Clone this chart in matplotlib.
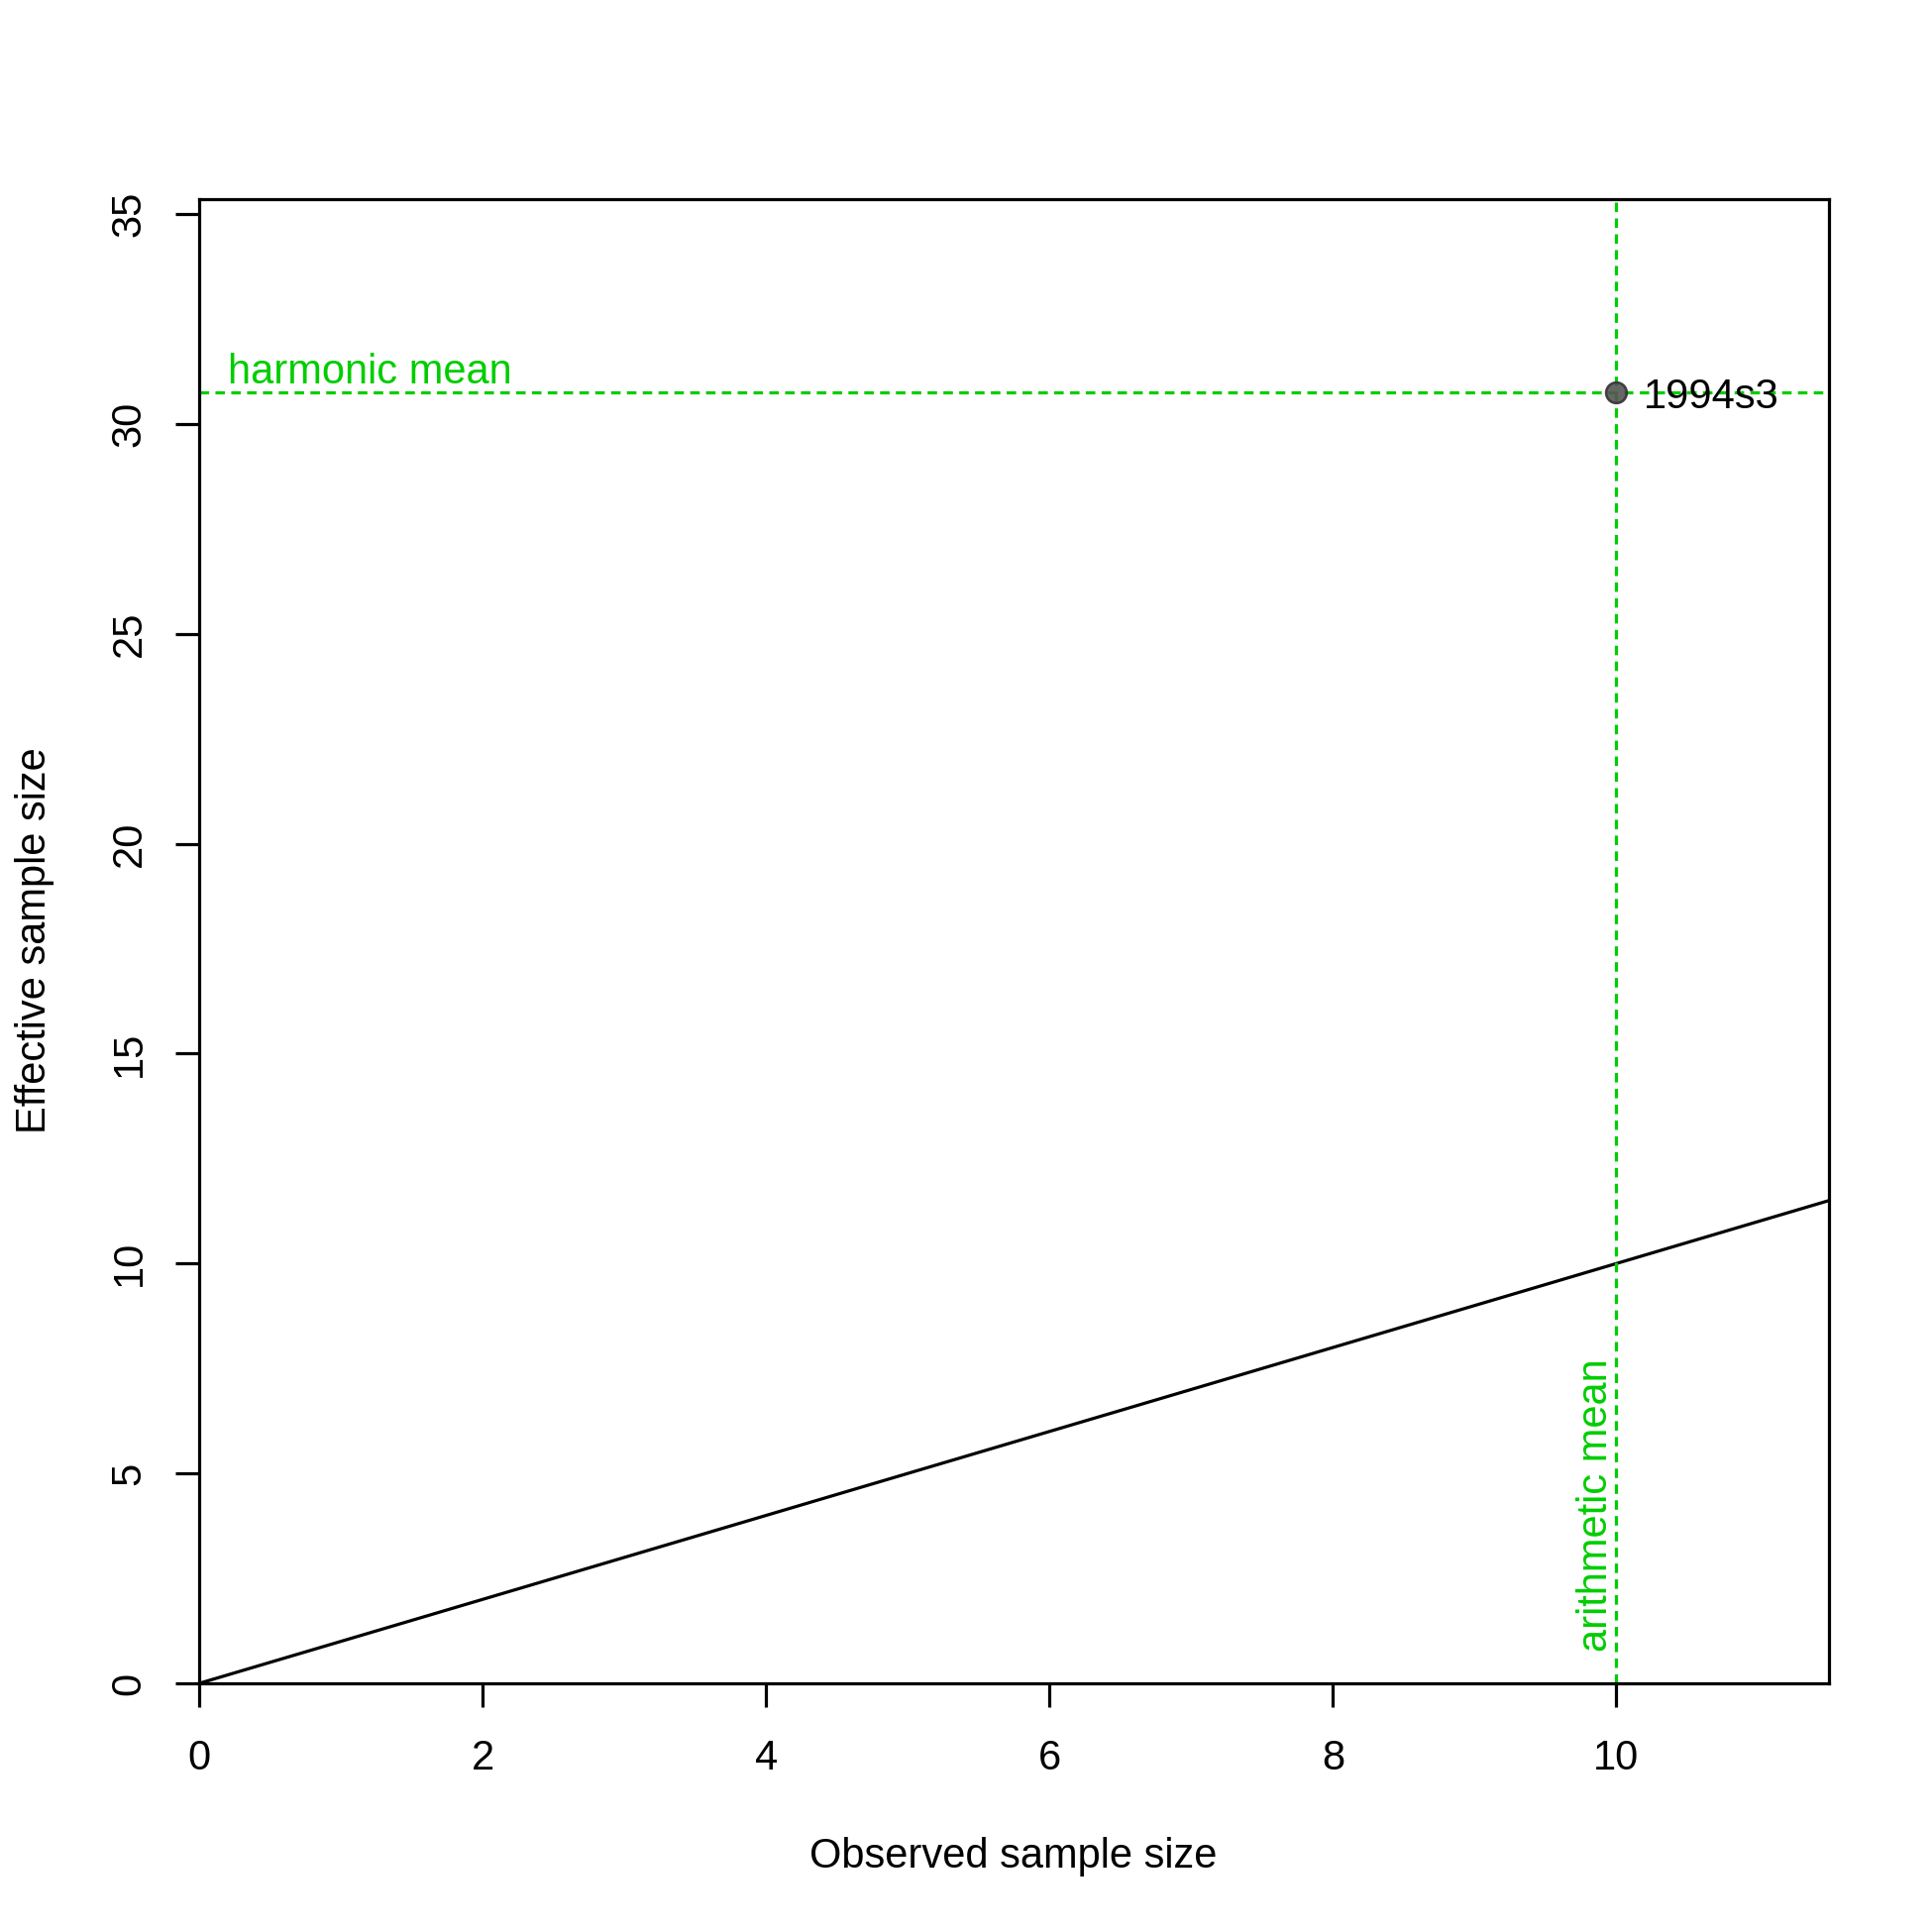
import matplotlib
matplotlib.use("Agg")
import matplotlib.pyplot as plt
import numpy as np

plt.rcParams['font.family'] = ['Liberation Sans', 'DejaVu Sans']

# Data
obs_size = [10]
eff_size = [30.74]
point_labels = ["1994s3"]
arith_mean = 10
harm_mean = 30.74
x_ticks = [0, 2, 4, 6, 8, 10]
y_ticks = [0, 5, 10, 15, 20, 25, 30, 35]
xlim = (0, 11.5)
ylim = (0, 35.35)

GREEN = "#00CD00"
FS = 30
DPI = 100
fig = plt.figure(figsize=(19.5, 19.5), dpi=DPI)
ax = fig.add_axes([0.1031, 0.1287, 0.9467 - 0.1031, 0.8969 - 0.1287])
ax.set_xlim(*xlim)
ax.set_ylim(*ylim)

lw = 2.3
# identity line
ax.plot(list(xlim), list(xlim), color="black", lw=lw, solid_capstyle="butt")

# means
ax.axhline(harm_mean, color=GREEN, lw=lw, linestyle=(0, (3, 2)))
ax.axvline(arith_mean, color=GREEN, lw=lw, linestyle=(0, (3, 2)))

# point
ax.plot(obs_size, eff_size, 'o', ms=15, mfc="#555555", mec="#333333", mew=1.8,
        alpha=0.9, zorder=5)
for x, y, s in zip(obs_size, eff_size, point_labels):
    ax.annotate(s, (x, y), xytext=(20, -3), textcoords="offset points",
                ha="left", va="center", fontsize=FS, color="black")

ax.text(0.2, harm_mean, "harmonic mean", color=GREEN, fontsize=FS,
        ha="left", va="bottom")
ax.text(arith_mean, 0.75, "arithmetic mean", color=GREEN, fontsize=FS,
        rotation=90, ha="right", va="bottom")

ax.set_xticks(x_ticks)
ax.set_yticks(y_ticks)
ax.set_yticklabels([str(v) for v in y_ticks], rotation=90, va="center")
ax.tick_params(axis="both", length=17.3, width=lw, labelsize=FS, direction="out")
ax.tick_params(axis="x", pad=23)
ax.tick_params(axis="y", pad=19)
for sp in ax.spines.values():
    sp.set_linewidth(lw)

fig.text(1023 / 1950, 1 - 1874 / 1950, "Observed sample size", ha="center",
         va="center", fontsize=FS)
fig.text(35 / 1950, 1 - 949 / 1950, "Effective sample size", ha="center",
         va="center", fontsize=FS, rotation=90)

fig.savefig("out.png", dpi=DPI, facecolor="white")
